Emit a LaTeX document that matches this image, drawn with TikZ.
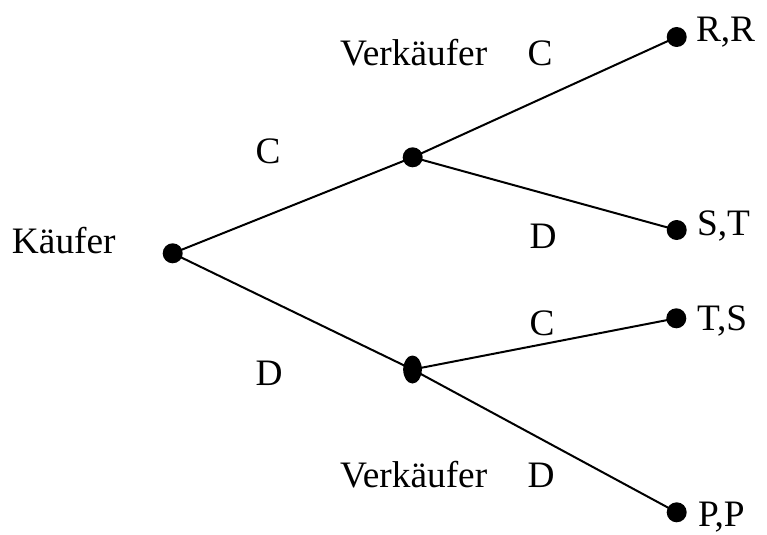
\documentclass[tikz,border=0pt]{standalone}
\usepackage{fontspec}
\setmainfont{Liberation Serif}
\usetikzlibrary{shapes.geometric}
\tikzset{
  dot/.style={circle,fill=black,inner sep=0pt,minimum size=15pt},
  lbl/.style={inner sep=0pt,font=\fontsize{28}{33}\selectfont},
}
\begin{document}
\begin{tikzpicture}[x=0.75pt,y=-0.75pt,line width=1.5pt]
  \useasboundingbox (0,0) rectangle (767,535);
  % decision nodes
  \node[dot] (root) at (172.7,253.3) {};
  \node[dot] (up) at (412.7,157.3) {};
  \node[dot,ellipse,minimum width=14pt,minimum height=21pt] (low) at (412.5,369.5) {};
  % outcomes
  \node[dot] (rr) at (676.7,37) {};
  \node[dot] (st) at (676.7,230) {};
  \node[dot] (ts) at (676.3,318.3) {};
  \node[dot] (pp) at (676.7,512.3) {};
  \draw (root.center) -- (up.center) -- (rr.center);
  \draw (up.center) -- (st.center);
  \draw (root.center) -- (low.center) -- (pp.center);
  \draw (low.center) -- (ts.center);
  % texts
  \node[lbl,anchor=base west] (kaeufer) at (11,253) {Käufer};
  \node[lbl,anchor=base] (cK) at (268,163) {C};
  \node[lbl,anchor=base] (dK) at (269,385) {D};
  \node[lbl,anchor=base west] (verkUp) at (339,65) {Verkäufer};
  \node[lbl,anchor=base] (cUp) at (540,65) {C};
  \node[lbl,anchor=base] (dUp) at (543,248) {D};
  \node[lbl,anchor=base] (cLow) at (542,335) {C};
  \node[lbl,anchor=base west] (verkLow) at (339,487) {Verkäufer};
  \node[lbl,anchor=base] (dLow) at (541,487) {D};
  \node[lbl,anchor=base west] (rrText) at (695,42) {R,R};
  \node[lbl,anchor=base west] (stText) at (696,235) {S,T};
  \node[lbl,anchor=base west] (tsText) at (696,330) {T,S};
  \node[lbl,anchor=base west] (ppText) at (697,526) {P,P};
\end{tikzpicture}
\end{document}
